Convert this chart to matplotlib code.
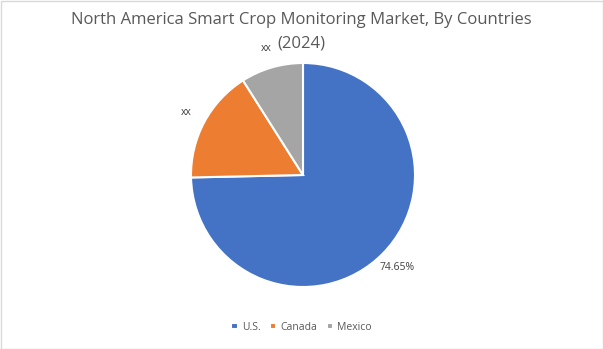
import matplotlib
matplotlib.use("Agg")
import matplotlib.pyplot as plt
from matplotlib.patches import Rectangle

# data
countries = ["U.S.", "Canada", "Mexico"]
shares = [74.65, 16.35, 9.0]
slice_labels = ["74.65%", "xx", "xx"]
colors = ["#4472C4", "#ED7D31", "#A5A5A5"]

plt.rcParams['font.family'] = ['Open Sans', 'DejaVu Sans']

W, H = 603, 349
fig = plt.figure(figsize=(W / 100, H / 100), dpi=100)

# pie centre (303,175) px from top-left, radius 112 px
cx, cy, r = 303, 175, 112
ax = fig.add_axes([(cx - r) / W, (H - cy - r) / H, 2 * r / W, 2 * r / H])

wedges, texts = ax.pie(shares, labels=slice_labels, colors=colors,
                       startangle=90, counterclock=False, radius=1,
                       labeldistance=1.18,
                       wedgeprops=dict(edgecolor="white", linewidth=1.5),
                       textprops=dict(fontsize=7.5, color="#404040"))
for t in texts:
    t.set_horizontalalignment("center")
ax.set_xlim(-1, 1)
ax.set_ylim(-1, 1)
ax.axis("off")

# title as two lines so each line's box is its own
fig.text(0.5, 1 - 20 / H, "North America Smart Crop Monitoring Market, By Countries",
         ha="center", va="center", fontsize=12, color="#595959")
fig.text(0.5, 1 - 43 / H, "(2024)",
         ha="center", va="center", fontsize=12, color="#595959")

fig.legend(wedges, countries, loc="center", bbox_to_anchor=(0.5, 1 - 327 / H),
           ncol=3, frameon=False, fontsize=7.5, handlelength=0.6, handleheight=0.6,
           handletextpad=0.4, columnspacing=0.9, labelcolor="#595959")

# light border around the chart
fig.patches.append(Rectangle((0.5 / W, 0.5 / H), 1 - 1 / W, 1 - 1 / H,
                             transform=fig.transFigure, fill=False,
                             edgecolor="#D9D9D9", linewidth=1))

fig.savefig("out.png", dpi=100)
